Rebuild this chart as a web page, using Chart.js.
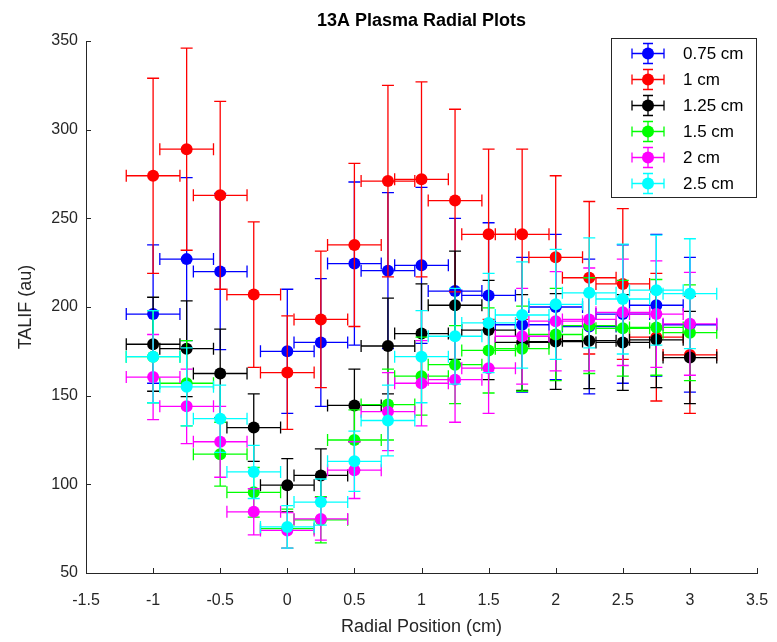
<!DOCTYPE html>
<html>
<head>
<meta charset="utf-8">
<script src="https://cdn.jsdelivr.net/npm/chart.js@4.4.1/dist/chart.umd.min.js"></script>
<style>
  body { margin: 0; background: #fff; }
</style>
</head>
<body>
<canvas id="plasmaChart" width="777" height="642"></canvas>
<script>
const radialPos = [-1, -0.75, -0.5, -0.25, 0, 0.25, 0.5, 0.75, 1, 1.25, 1.5, 1.75, 2, 2.25, 2.5, 2.75, 3];
const posErr = 0.2;

const seriesLabels = ["0.75 cm", "1 cm", "1.25 cm", "1.5 cm", "2 cm", "2.5 cm"];
const seriesColors = ["#0000ff", "#ff0000", "#000000", "#00ff00", "#ff00ff", "#00ffff"];

// TALIF values (au), null = no measurement
const talif075 = [196, 227, 220, null, 175, 180, 224.5, 220.5, 223.5, 209, 206.5, 190, 200, 189, 196, 201, 190];
const talif100 = [274, 289, 263, 207, 163, 193, 235, 271, 272, 260, 241, 241, 228, 216.5, 213, 183, 173];
const talif125 = [179, 176.5, 162.5, 132, 99.5, 105, 144.5, 178, 185, 201, 187, 180, 180.5, 181, 180, 181.5, 171.5];
const talif150 = [172, 157, 117, 95.5, 75, 80, 125, 145, 161, 167.5, 175.5, 176.5, 184.5, 189.5, 188, 188.5, 185.5];
const talif200 = [160.5, 144, 124, 84.5, 74, 80.5, 108, 141, 157, 159, 165.5, 183.5, 192, 193, 197, 196, 190.5];
const talif250 = [172, 155, 137, 107, 76, 90, 113, 136, 172, 183.5, 191, 195.5, 201.5, 208, 204.5, 209.5, 207.5];

// vertical error bar half-lengths
const err075 = [39, 46, 44, null, 35, 36, 46, 44, 44, 41, 41, 38, 41, 38, 39, 40, 38];
const err100 = [55, 57, 53, 41, 32, 38.5, 46, 54, 55, 51.5, 48, 48, 46, 43, 42.5, 36, 33];
const err125 = [26.5, 27, 25, 19, 15, 15, 20.5, 27, 28, 30.5, 28, 27, 27, 27, 27, 27, 26];
const err150 = [26, 24, 18, 14, 11, 13, 17, 20, 22, 22, 24, 24, 26, 27, 27, 27, 27];
const err200 = [24, 21, 20, 13, 10, 12, 16, 22, 24, 24, 25.5, 27, 28, 29, 30, 30, 29];
const err250 = [26, 22, 19, 15, 12, 13, 17, 20, 26, 27, 28, 30, 31, 31, 31, 31, 31];

const allValues = [talif075, talif100, talif125, talif150, talif200, talif250];
const allErrors = [err075, err100, err125, err150, err200, err250];

const chartTitle = "13A Plasma Radial Plots";

function buildPoints(values, errs) {
  const pts = [];
  values.forEach((v, i) => {
    if (v !== null) pts.push({ x: radialPos[i], y: v, err: errs[i] });
  });
  return pts;
}

const axisColor = "#262626";
const fontFamily = "'Liberation Sans', Arial, sans-serif";
Chart.defaults.font.family = fontFamily;
Chart.defaults.color = axisColor;

// draws x/y error bars under each dataset's markers
const errorBarPlugin = {
  id: "errorBars",
  beforeDatasetDraw(chart, args) {
    const ds = chart.data.datasets[args.index];
    const xs = chart.scales.x;
    const ys = chart.scales.y;
    const ctx = chart.ctx;
    const cap = 6;
    ctx.save();
    ctx.strokeStyle = ds.borderColor;
    ctx.lineWidth = 1.3;
    ds.data.forEach(p => {
      const px = xs.getPixelForValue(p.x);
      const py = ys.getPixelForValue(p.y);
      const x0 = xs.getPixelForValue(p.x - posErr);
      const x1 = xs.getPixelForValue(p.x + posErr);
      const y0 = ys.getPixelForValue(p.y - p.err);
      const y1 = ys.getPixelForValue(p.y + p.err);
      ctx.beginPath();
      ctx.moveTo(px, y0); ctx.lineTo(px, y1);
      ctx.moveTo(px - cap, y0); ctx.lineTo(px + cap, y0);
      ctx.moveTo(px - cap, y1); ctx.lineTo(px + cap, y1);
      ctx.moveTo(x0, py); ctx.lineTo(x1, py);
      ctx.moveTo(x0, py - cap); ctx.lineTo(x0, py + cap);
      ctx.moveTo(x1, py - cap); ctx.lineTo(x1, py + cap);
      ctx.stroke();
    });
    ctx.restore();
  }
};

// inward tick marks, title over the axes, boxed legend (matlab style)
const decorPlugin = {
  id: "decor",
  afterDraw(chart) {
    const ctx = chart.ctx;
    const { left, right, top, bottom } = chart.chartArea;
    ctx.save();
    ctx.strokeStyle = axisColor;
    ctx.lineWidth = 1;
    ctx.beginPath();
    chart.scales.y.ticks.forEach(t => {
      const py = Math.round(chart.scales.y.getPixelForValue(t.value)) + 0.5;
      ctx.moveTo(left, py); ctx.lineTo(left + 5, py);
    });
    chart.scales.x.ticks.forEach(t => {
      const px = Math.round(chart.scales.x.getPixelForValue(t.value)) + 0.5;
      ctx.moveTo(px, bottom); ctx.lineTo(px, bottom - 5);
    });
    ctx.stroke();

    ctx.fillStyle = "#000";
    ctx.font = "bold 18px " + fontFamily;
    ctx.textAlign = "center";
    ctx.textBaseline = "middle";
    ctx.fillText(chartTitle, (left + right) / 2, top - 20);

    // legend
    const bx = 611.5, by = 38.5, bw = 145, bh = 159;
    ctx.fillStyle = "#fff";
    ctx.fillRect(bx, by, bw, bh);
    ctx.strokeStyle = axisColor;
    ctx.strokeRect(bx, by, bw, bh);
    ctx.font = "17px " + fontFamily;
    ctx.textAlign = "left";
    seriesLabels.forEach((lbl, k) => {
      const cy = by + 15 + k * 26;
      const cx = 648;
      ctx.strokeStyle = seriesColors[k];
      ctx.lineWidth = 1.3;
      ctx.beginPath();
      ctx.moveTo(cx - 16, cy); ctx.lineTo(cx + 16, cy);
      ctx.moveTo(cx - 16, cy - 5); ctx.lineTo(cx - 16, cy + 5);
      ctx.moveTo(cx + 16, cy - 5); ctx.lineTo(cx + 16, cy + 5);
      ctx.moveTo(cx, cy - 10); ctx.lineTo(cx, cy + 10);
      ctx.moveTo(cx - 5, cy - 10); ctx.lineTo(cx + 5, cy - 10);
      ctx.moveTo(cx - 5, cy + 10); ctx.lineTo(cx + 5, cy + 10);
      ctx.stroke();
      ctx.fillStyle = seriesColors[k];
      ctx.beginPath();
      ctx.arc(cx, cy, 6, 0, Math.PI * 2);
      ctx.fill();
      ctx.fillStyle = "#000";
      ctx.fillText(lbl, 683, cy + 1);
    });
    ctx.restore();
  }
};

const datasets = seriesLabels.map((lbl, k) => ({
  label: lbl,
  data: buildPoints(allValues[k], allErrors[k]),
  borderColor: seriesColors[k],
  backgroundColor: seriesColors[k],
  pointRadius: 6,
  pointBorderWidth: 0,
  showLine: false,
  order: seriesLabels.length - 1 - k
}));

const ctx = document.getElementById("plasmaChart").getContext("2d");
new Chart(ctx, {
  type: "scatter",
  data: { datasets },
  plugins: [errorBarPlugin, decorPlugin],
  options: {
    responsive: false,
    animation: false,
    events: [],
    layout: { padding: { left: 0, right: 20, top: 41, bottom: 0 } },
    plugins: {
      legend: { display: false },
      tooltip: { enabled: false },
      title: { display: false }
    },
    scales: {
      x: {
        type: "linear",
        min: -1.5,
        max: 3.5,
        ticks: { stepSize: 0.5, padding: 18, font: { size: 16 }, color: axisColor, callback: v => String(v) },
        grid: { drawOnChartArea: false, drawTicks: false },
        border: { color: axisColor, width: 1 },
        title: { display: true, text: "Radial Position (cm)", font: { size: 18 }, color: axisColor, padding: { top: 0, bottom: 4 } },
        afterFit(scale) {
          scale.height = 69;
          scale.paddingLeft = 0;
          scale.paddingRight = 0;
        }
      },
      y: {
        min: 50,
        max: 350,
        ticks: { stepSize: 50, padding: 8, font: { size: 16 }, color: axisColor, callback: v => String(v) },
        grid: { drawOnChartArea: false, drawTicks: false },
        border: { color: axisColor, width: 1 },
        title: { display: true, text: "TALIF (au)", font: { size: 18 }, color: axisColor, padding: { top: 15, bottom: 0 } },
        afterFit(scale) { scale.width = 86; }
      }
    }
  }
});
</script>
</body>
</html>
